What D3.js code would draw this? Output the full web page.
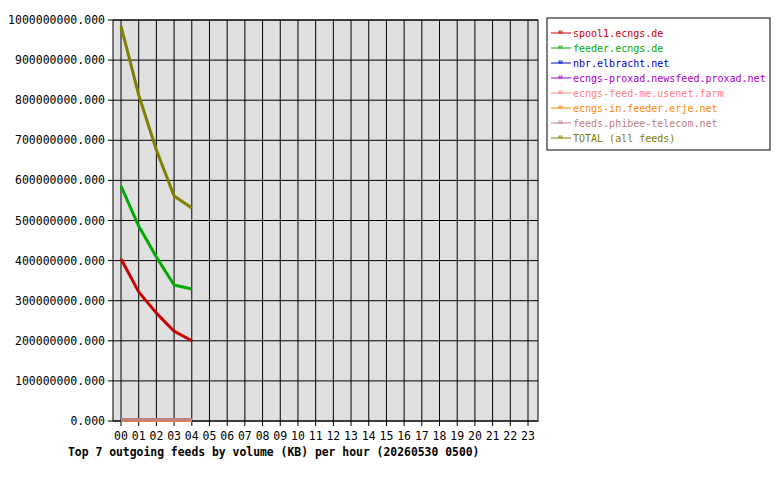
<!DOCTYPE html><html><head><script src="https://cdn.jsdelivr.net/npm/d3@7"></script>
<style>body{margin:0;background:#fff}text{font-family:"DejaVu Sans Mono",monospace}</style></head><body>
<svg id="c" width="780" height="480"></svg>
<script>
const hours=d3.range(24).map(h=>String(h).padStart(2,"0"));
const feeds=["spool1.ecngs.de","feeder.ecngs.de","nbr.elbracht.net","ecngs-proxad.newsfeed.proxad.net","ecngs-feed-me.usenet.farm","ecngs-in.feeder.erje.net","feeds.phibee-telecom.net","TOTAL (all feeds)"];
const colors=["#cc0000","#00aa00","#0000cc","#aa00cc","#ff8080","#ff8800","#c08080","#808000"];
const spool1=[404e6,322e6,269e6,224e6,200e6];
const feeder=[586e6,486e6,409e6,339e6,329e6];
const nbr=[2e6,2e6,2e6,2e6,2e6];
const proxad=[2e6,2e6,2e6,2e6,2e6];
const usenetFarm=[2e6,2e6,2e6,2e6,2e6];
const erje=[2e6,2e6,2e6,2e6,2e6];
const phibee=[3e6,3e6,3e6,3e6,3e6];
const total=[985e6,813e6,676e6,561e6,531e6];
const series=[spool1,feeder,nbr,proxad,usenetFarm,erje,phibee,total];
const yTicks=d3.range(0,11).map(i=>i*1e8);
const svg=d3.select("#c");
const x=d3.scalePoint().domain(hours).range([121,528]);
const y=d3.scaleLinear().domain([0,1e9]).range([421,20]);
svg.append("rect").attr("x",113).attr("y",20).attr("width",425).attr("height",401).attr("fill","#e0e0e0");
svg.selectAll(".hg").data(yTicks).join("line").attr("x1",113).attr("x2",538).attr("y1",d=>y(d)).attr("y2",d=>y(d)).attr("stroke","#000");
svg.selectAll(".vg").data(hours).join("line").attr("x1",d=>x(d)).attr("x2",d=>x(d)).attr("y1",20).attr("y2",426).attr("stroke","#000");
svg.selectAll(".yt").data(yTicks).join("line").attr("x1",108).attr("x2",113).attr("y1",d=>y(d)).attr("y2",d=>y(d)).attr("stroke","#000");
svg.append("rect").attr("x",113).attr("y",20).attr("width",425).attr("height",401).attr("fill","none").attr("stroke","#000");
svg.selectAll(".yl").data(yTicks).join("text").attr("x",105).attr("y",d=>y(d)+4).attr("text-anchor","end").attr("font-size",11.5).text(d=>d3.format(".3f")(d));
svg.selectAll(".xl").data(hours).join("text").attr("x",d=>x(d)).attr("y",440).attr("text-anchor","middle").attr("font-size",11.5).text(d=>d);
svg.append("text").attr("x",68).attr("y",456).attr("font-size",11.4).attr("font-weight","bold").text("Top 7 outgoing feeds by volume (KB) per hour (20260530 0500)");
const line=d3.line().x((d,i)=>x(hours[i])).y(d=>y(d));
series.forEach((s,i)=>svg.append("path").attr("d",line(s)).attr("fill","none").attr("stroke",colors[i]).attr("stroke-width",3).attr("stroke-linejoin","round"));
svg.append("rect").attr("x",547).attr("y",18).attr("width",223).attr("height",132).attr("fill","#fff").attr("stroke","#000");
feeds.forEach((f,i)=>{const yy=33+i*15;
 svg.append("line").attr("x1",551).attr("x2",571).attr("y1",yy).attr("y2",yy).attr("stroke",colors[i]);
 svg.append("rect").attr("x",559).attr("y",yy-2).attr("width",3).attr("height",2).attr("fill","none").attr("stroke",colors[i]).attr("stroke-width",0.8);
 svg.append("text").attr("x",573).attr("y",yy+4).attr("font-size",10).attr("fill",colors[i]).text(f);});
</script></body></html>
